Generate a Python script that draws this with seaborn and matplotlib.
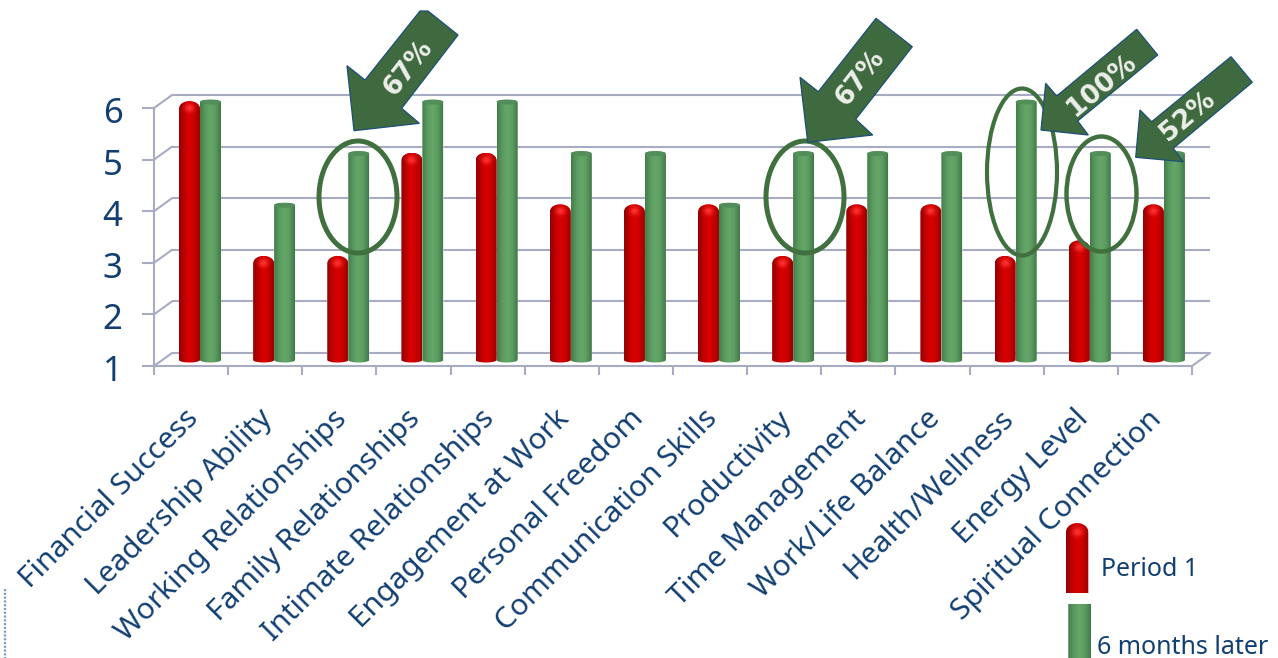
import numpy as np
import pandas as pd
import matplotlib
matplotlib.use("Agg")
import matplotlib.pyplot as plt
import seaborn as sns
from matplotlib.colors import LinearSegmentedColormap
from matplotlib.patches import Ellipse, Polygon
from matplotlib.path import Path
from matplotlib.transforms import Affine2D

categories = [
    "Financial Success", "Leadership Ability", "Working Relationships",
    "Family Relationships", "Intimate Relationships", "Engagement at Work",
    "Personal Freedom", "Communication Skills", "Productivity",
    "Time Management", "Work/Life Balance", "Health/Wellness",
    "Energy Level", "Spiritual Connection",
]
period_1 = [6, 3, 3, 5, 5, 4, 4, 4, 3, 4, 4, 3, 3.3, 4]
six_months = [6, 4, 5, 6, 6, 5, 5, 4, 5, 5, 5, 6, 5, 5]
score_ticks = [1, 2, 3, 4, 5, 6]
series_names = ["Period 1", "6 months later"]

W, H = 1278, 658
NAVY = "#123F72"
WALL = "#A7ABC3"
ARROW = "#3F6A3F"
RING = "#41703F"

RED_CMAP = LinearSegmentedColormap.from_list(
    "red_cyl", ["#8F0404", "#C00000", "#DA0000", "#C80000", "#9A0202"])
GREEN_CMAP = LinearSegmentedColormap.from_list(
    "green_cyl", ["#437C4B", "#5A9A5F", "#64A768", "#5C9C61", "#3F7848"])

sns.set_theme(style="white")
plt.rcParams["font.family"] = ["Noto Sans", "DejaVu Sans"]

fig = plt.figure(figsize=(W / 100, H / 100), dpi=100)
ax = fig.add_axes([154 / W, (H - 366) / H, 1038 / W, 271 / H])
to_px = Affine2D().scale(1, -1).translate(0, H)

frame = pd.DataFrame({
    "category": categories * 2,
    "score": period_1 + six_months,
    "series": [series_names[0]] * len(categories) + [series_names[1]] * len(categories),
})
sns.barplot(data=frame, x="category", y="score", hue="series", order=categories,
            hue_order=series_names, palette=["#C00000", "#5C9C61"],
            width=0.566, gap=0, dodge=True, legend=False, ax=ax, zorder=3)

X_MIN, X_MAX = -0.62, 13.38
Y_MIN, Y_MAX = 0.884, 6.136
ax.set_xlim(X_MIN, X_MAX)
ax.set_ylim(Y_MIN, Y_MAX)
ax.set_autoscale_on(False)
ax.set_xlabel("")
ax.set_ylabel("")

PX_X = 1038 / (X_MAX - X_MIN)
PX_Y = 271 / (Y_MAX - Y_MIN)

# The chart has a shallow 3D wall: the front plane sits below the value
# and the back wall is shifted up and to the right.
FRONT_DY = -6 / PX_Y
BACK_DY = 7 / PX_Y
BACK_DX = 18 / PX_X

front_levels = np.array(score_ticks) + FRONT_DY
back_levels = np.array(score_ticks) + BACK_DY

ax.hlines(back_levels, X_MIN + BACK_DX, X_MAX + BACK_DX, color=WALL, lw=1.5,
          zorder=1, clip_on=False)
for front, back in zip(front_levels, back_levels):
    ax.plot([X_MIN, X_MIN + BACK_DX], [front, back], color=WALL, lw=1.5,
            zorder=1, clip_on=False)
ax.plot([X_MAX, X_MAX + BACK_DX], [front_levels[0], back_levels[0]], color=WALL,
        lw=1.5, zorder=1, clip_on=False)

for name in ("top", "right"):
    ax.spines[name].set_visible(False)
for name in ("left", "bottom"):
    ax.spines[name].set_color(WALL)
    ax.spines[name].set_linewidth(1.5)
ax.spines["left"].set_bounds(front_levels[0], front_levels[-1])

ax.set_yticks(front_levels, [str(t) for t in score_ticks])
ax.tick_params(axis="y", length=8.6, width=1.5, color=WALL, pad=14, labelcolor=NAVY,
               labelsize=25, left=True)
for label in ax.get_yticklabels():
    label.set_transform(label.get_transform() + Affine2D().translate(0, -2))

ax.set_xticks(range(len(categories)), categories)
ax.set_xticks(np.arange(len(categories) + 1) + X_MIN, minor=True)
ax.tick_params(axis="x", which="minor", length=6.5, width=1.5, color=WALL, bottom=True)
ax.tick_params(axis="x", which="major", length=0, pad=35, labelcolor=NAVY, labelsize=21.5)
for label in ax.get_xticklabels():
    label.set_rotation(45)
    label.set_rotation_mode("anchor")
    label.set_ha("right")
    label.set_va("center")
    label.set_transform(label.get_transform() + Affine2D().translate(-6, 0))


def column_outline(x0, x1, y0, y1, foot, cap):
    """Closed outline of a cylinder: curved foot and an elliptical head."""
    cx = (x0 + x1) / 2
    rx = (x1 - x0) / 2
    t = np.linspace(np.pi, 2 * np.pi, 24)
    foot_pts = np.column_stack([cx + rx * np.cos(t), y0 + foot * np.sin(t)])
    t = np.linspace(0, np.pi, 32)
    head_pts = np.column_stack([cx + rx * np.cos(t), y1 + cap * np.sin(t)])
    return Path(np.vstack([foot_pts, head_pts, foot_pts[:1]]), closed=True)


def shade_column(target, x0, x1, y0, y1, cmap, foot, cap, zorder=3):
    """Paint a horizontal cylinder gradient inside the column outline."""
    outline = column_outline(x0, x1, y0, y1, foot, cap)
    grad = np.linspace(0, 1, 64)[None, :]
    image = target.imshow(grad, extent=(x0, x1, y0 - foot, y1 + cap), aspect="auto",
                          cmap=cmap, vmin=0, vmax=1, zorder=zorder,
                          interpolation="bilinear", origin="lower")
    image.set_clip_path(outline, target.transData)
    return outline


def add_highlight(target, x0, x1, y_center, half_h, outline, zorder=3.1):
    """Soft specular spot near the top of a domed column."""
    n = 48
    gx, gy = np.meshgrid(np.linspace(-1, 1, n), np.linspace(-1, 1, n))
    rgba = np.zeros((n, n, 4))
    rgba[..., 0] = 1.0
    rgba[..., 1] = 0.2
    rgba[..., 2] = 0.2
    rgba[..., 3] = np.clip(1.0 * np.exp(-4.5 * (gx ** 2 + gy ** 2)) - 0.03, 0, 1)
    spot = target.imshow(rgba, extent=(x0, x1, y_center - half_h, y_center + half_h),
                         aspect="auto", zorder=zorder, interpolation="bilinear",
                         origin="lower")
    spot.set_clip_path(outline, target.transData)


for container, cmap, is_dome in zip(ax.containers, (RED_CMAP, GREEN_CMAP), (True, False)):
    for bar in container.patches:
        value = bar.get_height()
        bar.set_y(1)
        bar.set_height(value - 1)
        x0, x1 = bar.get_x(), bar.get_x() + bar.get_width()
        foot = 2.5 / PX_Y
        if is_dome:
            # The red columns end in a rounded dome with a bright spot.
            cap = 8 / PX_Y
            y1 = value - 7 / PX_Y
            outline = shade_column(ax, x0, x1, 1, y1, cmap, foot, cap)
            add_highlight(ax, x0, x1, y1 + 1 / PX_Y, 9 / PX_Y, outline)
        else:
            cap = 2.5 / PX_Y
            outline = shade_column(ax, x0, x1, 1, value, cmap, foot, cap)
            ax.add_patch(Ellipse(((x0 + x1) / 2, value), x1 - x0, 2 * cap,
                                 facecolor="#528E59", edgecolor="none", zorder=3.2))
        bar.set_clip_path(outline, ax.transData)

# Rings around the columns singled out by the arrows.
rings = [
    ((358, 197), 78, 112, 3.6),
    ((805, 197), 78, 112, 3.6),
    ((1022, 172), 70, 167, 3.0),
    ((1101.5, 194), 70, 115, 3.2),
]
for center, width, height, lw in rings:
    fig.add_artist(Ellipse(center, width, height, facecolor="none", edgecolor=RING,
                           lw=lw, transform=to_px, zorder=4))

# Callout arrows with the improvement they point out.
arrows = [
    ([(347, 65.7), (365, 80), (420, 11), (428, 11), (458, 35), (401.7, 108.3),
      (419.3, 123.3), (354, 130.7)], "67%", (408, 68), 52),
    ([(800, 77.3), (818.3, 91.7), (876, 18.3), (912.3, 46.7), (855.7, 119.3),
      (872.7, 135), (807.7, 142.3)], "67%", (860.7, 78), 52),
    ([(1045.7, 83.3), (1056.7, 96), (1136.7, 29.3), (1157.7, 55), (1077.7, 121),
      (1088.3, 135), (1041, 130)], "100%", (1101.7, 85), 40),
    ([(1140, 110), (1151.7, 121.7), (1231, 56.7), (1252.3, 82.3), (1173.3, 148.3),
      (1183.3, 161.7), (1135.7, 157.3)], "52%", (1188, 116.7), 40),
]
for corners, text, where, angle in arrows:
    fig.add_artist(Polygon(corners, closed=True, facecolor=ARROW, edgecolor="#1C4F78",
                           lw=0.9, transform=to_px, zorder=5))
    fig.text(where[0], where[1], text, transform=to_px, color="#EDEFEA", fontsize=19,
             family="DejaVu Sans", fontweight="bold", rotation=angle,
             rotation_mode="anchor", ha="center", va="center", zorder=6)

# Hand-placed key in the lower right corner.
key = fig.add_axes([1060 / W, 0, 40 / W, 140 / H])
key.set_xlim(1060, 1100)
key.set_ylim(518, 658)
key.set_autoscale_on(False)
key.axis("off")
key_px = lambda y: 658 + 518 - y
outline = shade_column(key, 1066, 1088.3, key_px(593), key_px(532), RED_CMAP, 0.01, 9)
add_highlight(key, 1066, 1088.3, key_px(532), 10, outline)
shade_column(key, 1068.3, 1091, key_px(658), key_px(604), GREEN_CMAP, 0.01, 0.01)

fig.text(1101, 569, series_names[0], transform=to_px, color=NAVY, fontsize=18,
         ha="left", va="center")
fig.text(1097, 647, series_names[1], transform=to_px, color=NAVY, fontsize=18,
         ha="left", va="center")

# Dotted rule at the far left edge.
fig.add_artist(plt.Line2D([5, 5], [589, 658], transform=to_px, color="#7F9CC0", lw=1.6,
                          ls=(0, (1, 0.7))))

fig.savefig("out.png", dpi=100)
